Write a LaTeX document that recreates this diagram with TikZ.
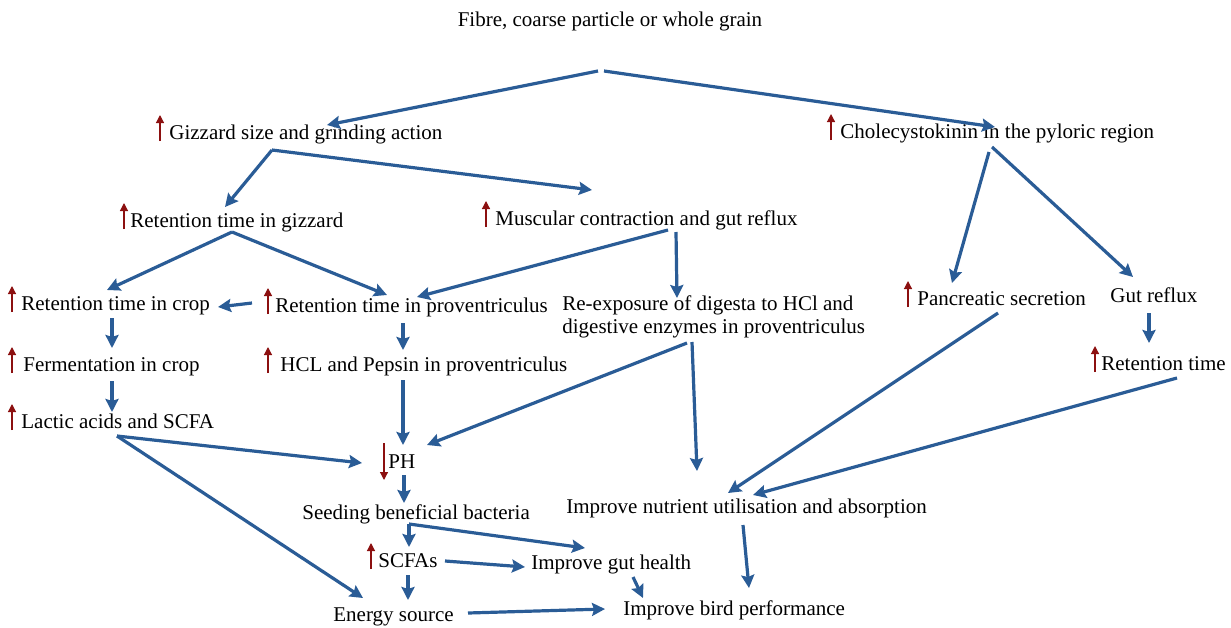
\documentclass[tikz,border=0pt]{standalone}
\usepackage{fontspec}
\setmainfont{Liberation Serif}
\usepackage{xcolor}
\usepackage{tikz}
\usetikzlibrary{arrows.meta, calc}

\definecolor{flowblue}{RGB}{42,92,150}
\definecolor{markred}{RGB}{140,16,16}
\tikzset{
    flow/.style={line width=1.6pt, flowblue, -{Stealth[length=6.5pt,width=6.5pt,inset=1pt]}},
    upmark/.style={line width=0.6pt, markred, -{Triangle[length=4pt,width=4pt]}},
    lbl/.style={anchor=base west, inner sep=0pt, font=\fontsize{10.5}{11.5}\selectfont}
}

\begin{document}
\begin{tikzpicture}[x=0.5pt, y=-0.5pt]
    \useasboundingbox (0,0) rectangle (1231,627);
    % labels
    \node[lbl, anchor=base] (fibre) at (610,26) {Fibre, coarse particle or whole grain};
    \node[lbl] (giz) at (169,139) {Gizzard size and grinding action};
    \node[lbl] (cck) at (840,138) {Cholecystokinin in the pyloric region};
    \node[lbl] (rtg) at (130,227) {Retention time in gizzard};
    \node[lbl] (musc) at (495,225) {Muscular contraction and gut reflux};
    \node[lbl] (rtc) at (21,310) {Retention time in crop};
    \node[lbl] (rtp) at (275,312) {Retention time in proventriculus};
    \node[lbl, align=left] (reexp) at (562,333) {Re-exposure of digesta to HCl and\\digestive enzymes in proventriculus};
    \node[lbl] (panc) at (917,305) {Pancreatic secretion};
    \node[lbl] (gref) at (1110,302) {Gut reflux};
    \node[lbl] (ferm) at (23,371) {Fermentation in crop};
    \node[lbl] (hcl) at (280,371) {HCL and Pepsin in proventriculus};
    \node[lbl] (rtr) at (1101,370) {Retention time};
    \node[lbl] (lac) at (21,428) {Lactic acids and SCFA};
    \node[lbl] (ph) at (388,468) {PH};
    \node[lbl] (nutr) at (566,513) {Improve nutrient utilisation and absorption};
    \node[lbl] (seed) at (302,519) {Seeding beneficial bacteria};
    \node[lbl] (scfa) at (378,567) {SCFAs};
    \node[lbl] (gut) at (531,569) {Improve gut health};
    \node[lbl] (bird) at (623,615) {Improve bird performance};
    \node[lbl] (energy) at (333,621) {Energy source};

    % increase / decrease marks
    \foreach \n/\d in {giz/9, cck/9, rtg/6, musc/9, rtc/9, rtp/7, panc/9, ferm/11, hcl/12, rtr/6, lac/9, scfa/7}
        \draw[upmark] ($(\n.base west)+(-\d,2)$) -- ++(0,-26);
    \draw[upmark] ($(ph.base west)+(-4,-25)$) -- ++(0,37);

    % arrows
    \draw[flow] ($(fibre.base)+(-12,45)$) -- ($(giz.base west)+(158,-14)$);
    \draw[flow] ($(fibre.base)+(-6,45)$) -- ($(cck.base west)+(155,-11)$);
    \draw[flow] ($(giz.base west)+(103,11)$) -- ($(rtg.base west)+(95,-20)$);
    \draw[flow] ($(giz.base west)+(103,11)$) -- ($(musc.base west)+(97,-35)$);
    \draw[flow] ($(rtg.base west)+(102,5)$) -- ($(rtc.base west)+(86,-20)$);
    \draw[flow] ($(rtg.base west)+(102,5)$) -- ($(rtp.base west)+(112,-17)$);
    \draw[flow] ($(musc.base west)+(173,5)$) -- ($(rtp.base west)+(142,-15)$);
    \draw[flow] ($(musc.base west)+(181,7)$) -- ($(reexp.base west)+(115,-35)$);
    \draw[flow] ($(rtp.base west)+(-23,-9)$) -- ($(rtc.base west)+(197,-3)$);
    \draw[flow] ($(cck.base west)+(149,14)$) -- ($(panc.base west)+(35,-22)$);
    \draw[flow] ($(cck.base west)+(152,9)$) -- ($(gref.base west)+(23,-25)$);
    \draw[flow] ($(gref.base west)+(39,11)$) -- ($(rtr.base west)+(48,-27)$);
    \draw[flow] ($(rtc.base west)+(91,8)$) -- ($(ferm.base west)+(89,-23)$);
    \draw[flow] ($(ferm.base west)+(89,10)$) -- ($(lac.base west)+(91,-16)$);
    \draw[flow] ($(rtp.base west)+(128,11)$) -- ($(hcl.base west)+(123,-21)$);
    \draw[flow] ($(hcl.base west)+(123,9)$) -- ($(ph.base west)+(15,-23)$);
    \draw[flow] ($(lac.base west)+(96,8)$) -- ($(ph.base west)+(-26,-5)$);
    \draw[flow] ($(lac.base west)+(96,8)$) -- ($(energy.base west)+(30,-23)$);
    \draw[flow] ($(reexp.base west)+(125,10)$) -- ($(ph.base west)+(39,-23)$);
    \draw[flow] ($(reexp.base west)+(130,9)$) -- ($(nutr.base west)+(131,-42)$);
    \draw[flow] ($(ph.base west)+(16,7)$) -- ($(seed.base west)+(102,-16)$);
    \draw[flow] ($(seed.base west)+(107,5)$) -- ($(scfa.base west)+(31,-20)$);
    \draw[flow] ($(seed.base west)+(107,5)$) -- ($(gut.base west)+(54,-21)$);
    \draw[flow] ($(scfa.base west)+(67,-6)$) -- ($(gut.base west)+(-6,-2)$);
    \draw[flow] ($(scfa.base west)+(30,8)$) -- ($(energy.base west)+(75,-21)$);
    \draw[flow] ($(energy.base west)+(135,-8)$) -- ($(bird.base west)+(-18,-6)$);
    \draw[flow] ($(gut.base west)+(102,8)$) -- ($(bird.base west)+(20,-17)$);
    \draw[flow] ($(nutr.base west)+(177,12)$) -- ($(bird.base west)+(126,-27)$);
    \draw[flow] ($(panc.base west)+(81,8)$) -- ($(nutr.base west)+(162,-20)$);
    \draw[flow] ($(rtr.base west)+(76,8)$) -- ($(nutr.base west)+(187,-18)$);
\end{tikzpicture}
\end{document}
